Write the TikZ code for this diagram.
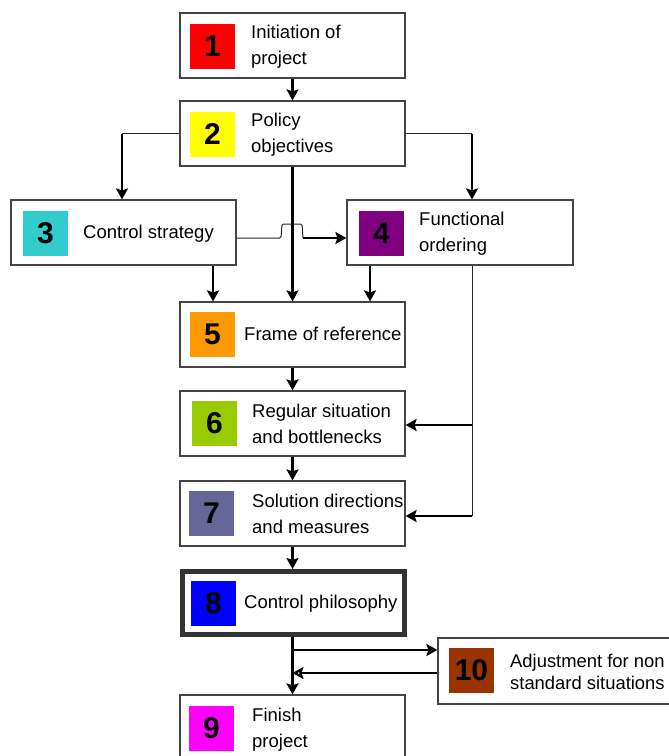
\documentclass[tikz,border=0pt]{standalone}
\usepackage{fontspec}
\setmainfont{Liberation Sans}
\usetikzlibrary{arrows.meta}
\definecolor{boxline}{HTML}{444444}
\definecolor{c1}{HTML}{FF0000}
\definecolor{c2}{HTML}{FFFF00}
\definecolor{c3}{HTML}{33CCCC}
\definecolor{c4}{HTML}{800080}
\definecolor{c5}{HTML}{FF9900}
\definecolor{c6}{HTML}{99CC00}
\definecolor{c7}{HTML}{666699}
\definecolor{c8}{HTML}{0000FF}
\definecolor{c9}{HTML}{FF00FF}
\definecolor{c10}{HTML}{993300}
\tikzset{
  stage/.style={draw=boxline, line width=1.2pt, fill=white, minimum width=225pt, minimum height=65pt, inner sep=0pt},
  keystage/.style={stage, draw=black!80, line width=5pt, minimum height=63pt, minimum width=222pt},
  numsq/.style={minimum width=45pt, minimum height=45pt, inner sep=0pt, font=\fontsize{30}{30}\selectfont\bfseries},
  label/.style={anchor=west, align=left, inner sep=0pt, font=\fontsize{18.5}{26}\selectfont},
  flow/.style={line width=2.6pt, -{Stealth[length=11pt,width=12pt,inset=2pt]}},
  backflow/.style={line width=2.6pt, -{Stealth[open,length=11pt,width=12pt,inset=2pt,fill=white]}},
  feed/.style={line width=1pt, draw=black!85}
}
\begin{document}
\begin{tikzpicture}[x=1pt,y=-1pt]
\useasboundingbox (0,0) rectangle (669,756);

% stage boxes
\node[stage] (b1) at (292.5,45.5) {};
\node[stage] (b2) at (292.5,133.5) {};
\node[stage] (b3) at (123.5,232.5) {};
\node[stage, minimum width=226pt] (b4) at (460,232.5) {};
\node[stage] (b5) at (292.5,334.5) {};
\node[stage] (b6) at (292.5,423.5) {};
\node[stage] (b7) at (292.5,513.5) {};
\node[keystage] (b8) at (293.5,603) {};
\node[stage] (b9) at (292.5,727.5) {};
\node[stage, minimum width=240pt, minimum height=66pt] (b10) at (558,671) {};

% numbered colour squares
\node[numsq, fill=c1] (n1) at (212.5,46.5) {1};
\node[numsq, fill=c2] (n2) at (212.5,134.5) {2};
\node[numsq, fill=c3] (n3) at (45.5,233.5) {3};
\node[numsq, fill=c4] (n4) at (381.5,233.5) {4};
\node[numsq, fill=c5] (n5) at (212.5,334.5) {5};
\node[numsq, fill=c6] (n6) at (214.5,423.5) {6};
\node[numsq, fill=c7] (n7) at (211.5,513.5) {7};
\node[numsq, fill=c8] (n8) at (213.5,603.5) {8};
\node[numsq, fill=c9] (n9) at (211.5,728) {9};
\node[numsq, fill=c10] (n10) at (471.5,670.5) {10};

% stage titles
\node[label] (t1) at (251,47) {Initiation of\\project};
\node[label] (t2) at (251,135) {Policy\\objectives};
\node[label] (t3) at (83,234) {Control strategy};
\node[label] (t4) at (419,234) {Functional\\ordering};
\node[label] (t5) at (244,334) {Frame of reference};
\node[label] (t6) at (252,424) {Regular situation\\and bottlenecks};
\node[label] (t7) at (252,514) {Solution directions\\and measures};
\node[label] (t8) at (244,604) {Control philosophy};
\node[label] (t9) at (252,730) {Finish\\project};
\node[label, font=\fontsize{18.4}{22}\selectfont] (t10) at (510,672) {Adjustment for non\\standard situations};

% helper coordinates
\coordinate (l2) at (122,133.5);
\coordinate (r2) at (472,133.5);
\coordinate (x3) at (213,0);
\coordinate (x4) at (370,0);
\coordinate (j0) at (281,238);
\coordinate (j1) at (282,224);
\coordinate (j2) at (302,224);
\coordinate (j3) at (303,238);
\coordinate (f4) at (472,516);
\coordinate (f6) at (472,425);
\coordinate (f7) at (472,516);
\coordinate (s10) at (292.5,650);
\coordinate (r10) at (292.5,673);

% main chain
\draw[flow] (b1.south) -- (b2.north);
\draw[feed] (b2.west) -- (l2);
\draw[flow] (l2) -- (l2 |- b3.north);
\draw[feed] (b2.east) -- (r2);
\draw[flow] (r2) -- (r2 |- b4.north);

% strategy to ordering, hopping over the central line
\draw[feed, rounded corners=1.5pt] (b3.east |- j0) -- (j0) -- (j1) -- (j2) -- (j3);
\draw[flow] (j3) -- (j3 -| b4.west);

\draw[flow] (b2.south) -- (b5.north);
\draw[flow] (b3.south -| x3) -- (b5.north -| x3);
\draw[flow] (b4.south -| x4) -- (b5.north -| x4);

% feedback from functional ordering
\draw[feed] (b4.south -| f4) -- (f4);
\draw[flow] (f6) -- (f6 -| b6.east);
\draw[flow] (f7) -- (f7 -| b7.east);

\draw[flow] (b5.south) -- (b6.north);
\draw[flow] (b6.south) -- (b7.north);
\draw[flow] (b7.south) -- (b8.north -| b7.south);
\draw[flow] (b8.south -| b7.south) -- (b9.north);

% loop with non standard situations
\draw[flow] (s10) -- (s10 -| b10.west);
\draw[backflow] (r10 -| b10.west) -- (r10);
\end{tikzpicture}
\end{document}
